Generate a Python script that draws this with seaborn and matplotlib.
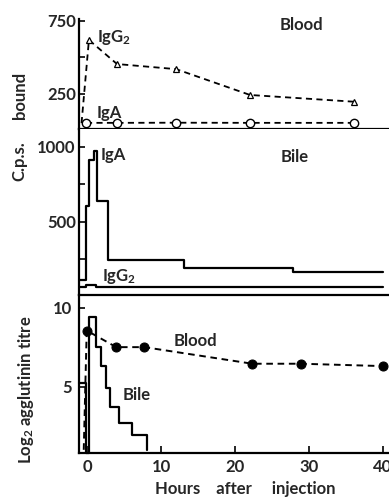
import numpy as np
import matplotlib
matplotlib.use("Agg")
import matplotlib.pyplot as plt
import seaborn as sns

# ---- data ----
# top panel: blood, c.p.s. bound (dashed lines)
blood_igg2_h = [-0.8, 0.2, 4.0, 12.0, 22.0, 36.0]
blood_igg2_cps = [50, 620, 455, 420, 243, 197]
blood_iga_h = [-0.2, 4.0, 12.0, 22.0, 36.0]
blood_iga_cps = [52, 52, 53, 52, 52]

# middle panel: bile, c.p.s. (step fractions, edges + level per fraction)
bile_iga_edges = [-1.2, -0.25, 0.2, 0.9, 1.3, 2.8, 13.1, 27.8, 40.0]
bile_iga_cps = [113, 605, 910, 970, 636, 242, 193, 167]
bile_igg2_edges = [-1.2, -0.25, 1.2, 40.0]
bile_igg2_cps = [62, 80, 62]

# bottom panel: log2 agglutinin titre
titre_blood_h = [-0.5, -0.1, 3.9, 7.7, 22.3, 28.9, 40.0]
titre_blood = [1.0, 8.55, 7.5, 7.5, 6.45, 6.45, 6.3]
titre_bile_edges = [-1.2, -0.15, 0.15, 1.1, 1.8, 2.5, 3.1, 4.3, 6.0, 8.1]
titre_bile = [5.2, 0.8, 9.4, 7.5, 6.3, 4.9, 3.7, 2.7, 1.95]

sns.set_style("ticks")
plt.rcParams['font.family'] = ['Lato', 'DejaVu Sans']
plt.rcParams['font.weight'] = 'bold'
plt.rcParams['mathtext.fontset'] = 'custom'
plt.rcParams['mathtext.rm'] = 'Lato:bold'
plt.rcParams['mathtext.it'] = 'Lato:bold'
plt.rcParams['mathtext.bf'] = 'Lato:bold'
plt.rcParams['mathtext.default'] = 'rm'

FS = 12
fig = plt.figure(figsize=(3.89, 4.98), dpi=100)
ax1 = fig.add_axes([0.202, 0.741, 0.798, 0.221])
ax2 = fig.add_axes([0.202, 0.4076, 0.798, 0.3334])
ax3 = fig.add_axes([0.202, 0.0904, 0.798, 0.3172])

dash = (0, (3.4, 2.4))

# top panel
sns.lineplot(x=blood_igg2_h, y=blood_igg2_cps, ax=ax1, color='black', lw=1.3,
             linestyle=dash, marker='^', markevery=[1, 2, 3, 4, 5], ms=5,
             mfc='white', mec='black', mew=0.9, estimator=None, sort=False,
             clip_on=False)
sns.lineplot(x=blood_iga_h, y=blood_iga_cps, ax=ax1, color='black', lw=1.3,
             linestyle=dash, marker='o', ms=6, mfc='white', mec='black',
             mew=1.0, estimator=None, sort=False, clip_on=False)
ax1.set_ylim(10, 764)
ax1.set_yticks([250, 500, 750])
ax1.set_yticklabels(['250', '', '750'])
ax1.text(1.3, 634, 'IgG$_2$', fontsize=FS, ha='left', va='center')
ax1.text(1.3, 122, 'IgA', fontsize=FS, ha='left', va='center')
ax1.text(29, 723, 'Blood', fontsize=FS, ha='center', va='center')

# middle panel
sns.lineplot(x=bile_iga_edges, y=bile_iga_cps + [bile_iga_cps[-1]], ax=ax2,
             color='black', lw=1.6, drawstyle='steps-post', estimator=None,
             sort=False)
sns.lineplot(x=bile_igg2_edges, y=bile_igg2_cps + [bile_igg2_cps[-1]], ax=ax2,
             color='black', lw=1.6, drawstyle='steps-post', estimator=None,
             sort=False)
ax2.set_ylim(10, 1120)
ax2.set_yticks([250, 500, 750, 1000])
ax2.set_yticklabels(['', '500', '', '1000'])
ax2.text(1.85, 946, 'IgA', fontsize=FS, ha='left', va='center')
ax2.text(28.1, 933, 'Bile', fontsize=FS, ha='center', va='center')
ax2.text(2.0, 135, 'IgG$_2$', fontsize=FS, ha='left', va='center')

# bottom panel
sns.lineplot(x=titre_blood_h, y=titre_blood, ax=ax3, color='black', lw=1.4,
             linestyle=dash, marker='o', markevery=[1, 2, 3, 4, 5, 6], ms=6.5,
             mfc='black', mec='black', estimator=None, sort=False,
             clip_on=False)
sns.lineplot(x=titre_bile_edges, y=titre_bile + [1.0], ax=ax3, color='black',
             lw=1.6, drawstyle='steps-post', estimator=None, sort=False,
             clip_on=False)
ax3.set_ylim(0.8, 10.8)
ax3.set_yticks([5, 10])
ax3.set_yticklabels(['5', '10'])
ax3.set_xticks([0, 10, 20, 30, 40])
ax3.text(14.6, 7.9, 'Blood', fontsize=FS, ha='center', va='center')
ax3.text(6.6, 4.5, 'Bile', fontsize=FS, ha='center', va='center')

for ax in (ax1, ax2, ax3):
    ax.set_xlim(-1.2, 40.8)
    ax.set_xlabel('')
    ax.set_ylabel('')
    if ax.get_legend() is not None:
        ax.get_legend().remove()
    for s in ax.spines.values():
        s.set_linewidth(1.6)
        s.set_color('black')
    ax.spines['right'].set_visible(False)
    ax.tick_params(axis='y', direction='in', length=4, width=1.4,
                   labelsize=FS, pad=2)

ax1.spines['top'].set_visible(False)
ax2.spines['top'].set_visible(False)
ax2.spines['bottom'].set_visible(False)
ax1.tick_params(axis='x', bottom=False, labelbottom=False)
ax2.tick_params(axis='x', bottom=False, labelbottom=False)
ax3.tick_params(axis='x', direction='in', length=5, width=1.4,
                labelsize=FS, pad=4)
ax3.tick_params(axis='y', pad=5)

fig.text(0.051, 0.809, 'bound', rotation=90, fontsize=FS, ha='center', va='center')
fig.text(0.051, 0.677, 'C.p.s.', rotation=90, fontsize=FS, ha='center', va='center')
fig.text(0.066, 0.217, 'Log$_2$ agglutinin titre', rotation=90, fontsize=FS,
         ha='center', va='center')
fig.text(0.63, 0.018, 'Hours    after     injection', fontsize=FS,
         ha='center', va='center')

fig.savefig('out.png', dpi=100)
